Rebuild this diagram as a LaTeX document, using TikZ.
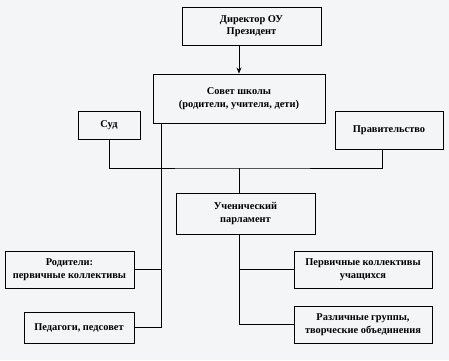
\documentclass[tikz,border=0pt]{standalone}
\usepackage{fontspec}
\setmainfont{Liberation Serif}
\usepackage{tikz}
\usetikzlibrary{arrows.meta,positioning,calc}
\definecolor{pagegray}{RGB}{244,245,247}

\begin{document}
\begin{tikzpicture}[
  x=0.75pt, y=-0.75pt,
  box/.style={rectangle, draw, line width=0.6pt, align=center, inner sep=1pt, font=\fontsize{7.8}{9.5}\selectfont\bfseries},
  line/.style={line width=0.6pt},
  arr/.style={-{Stealth[length=1.6mm, width=1.3mm]}, line width=0.6pt},
]
  \fill[pagegray] (0,0) rectangle (449,360);
  \useasboundingbox (0,0) rectangle (449,360);

  \node[box, minimum width=139*0.75pt, minimum height=38*0.75pt] (dir) at (251.5,26) {Директор ОУ\\Президент};
  \node[box, minimum width=172*0.75pt, minimum height=49*0.75pt] (sovet) at (239,98.5) {Совет школы\\(родители, учителя, дети)};
  \node[box, minimum width=62*0.75pt, minimum height=28*0.75pt] (sud) at (109,125) {Суд};
  \node[box, minimum width=108*0.75pt, minimum height=38*0.75pt] (prav) at (389,130) {Правительство};
  \node[box, minimum width=139*0.75pt, minimum height=41*0.75pt] (uch) at (245.5,213.5) {Ученический\\парламент};
  \node[box, minimum width=129*0.75pt, minimum height=37*0.75pt] (rod) at (69.5,269.5) {Родители:\\первичные коллективы};
  \node[box, minimum width=110*0.75pt, minimum height=31*0.75pt] (ped) at (79,327.5) {Педагоги, педсовет};
  \node[box, minimum width=138*0.75pt, minimum height=37*0.75pt] (perv) at (363,269.5) {Первичные коллективы\\учащихся};
  \node[box, minimum width=138*0.75pt, minimum height=37*0.75pt] (razl) at (363,324.5) {Различные группы,\\творческие объединения};

  % director -> council
  \draw[arr] (sovet.north |- dir.south) -- (sovet.north);

  % court and government down to the parliament
  \coordinate (bus) at (239,168);
  \draw[line] (sud.south) |- (bus) -| ([xshift=-5.25pt]prav.south);
  \draw[line] (bus) -- (bus |- uch.north);

  % council branch (left)
  \draw[line] ([xshift=6.75pt]sovet.south west) coordinate (ls) -- (ls |- ped.east) -- (ped.east);
  \draw[line] (rod.east) -- (rod.east -| ls);

  % parliament branch (right)
  \draw[line] (bus |- uch.south) -- (bus |- razl.west) -- (razl.west);
  \draw[line] (perv.west) -- (perv.west -| bus);
\end{tikzpicture}
\end{document}
